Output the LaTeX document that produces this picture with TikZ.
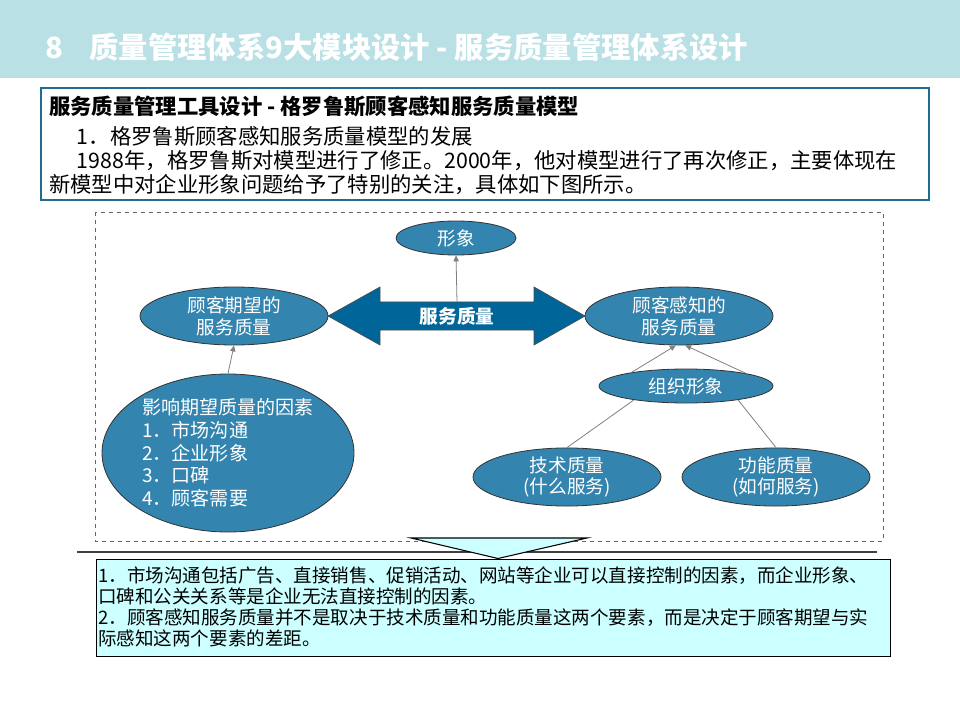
\documentclass[tikz,border=0pt]{standalone}
\usepackage{fontspec}
\setmainfont{Noto Sans CJK SC}
\usepackage{tikz}
\usetikzlibrary{arrows.meta,positioning,shapes.geometric}
\definecolor{barC}{RGB}{185,224,228}
\definecolor{boxC}{RGB}{31,108,148}
\definecolor{ellC}{RGB}{51,132,174}
\definecolor{arrC}{RGB}{0,102,153}
\definecolor{callC}{RGB}{204,255,255}

\begin{document}
\begin{tikzpicture}[
  x=0.75pt, y=-0.75pt, >={Triangle[length=4.5pt,width=4pt]},
  ell/.style={ellipse, draw=black!80, fill=ellC, text=white, line width=0.6pt,
              align=center, inner sep=0pt, font=\fontsize{14}{16.3}\selectfont},
  conn/.style={draw=black!50, line width=0.6pt},
  sqtext/.style={text=white, font=\fontsize{14}{16}\selectfont\bfseries,
                 minimum width=115.5pt, minimum height=21pt, inner sep=0pt}]

  \useasboundingbox (0,0) rectangle (960,720);
  \fill[barC] (0,0) rectangle (960,78);
  \node[anchor=west, text=white, inner sep=0pt, font=\fontsize{22}{25}\selectfont\bfseries]
    (title) at (45,47) {8\hspace{0.9em}质量管理体系9大模块设计 - 服务质量管理体系设计};

  % intro box
  \draw[boxC, line width=0.8pt] (41,88) rectangle (929,200);
  \node[anchor=north west, align=left, inner sep=0pt,
        font=\fontsize{16}{18}\selectfont] (intro) at (49,96)
    {\textbf{服务质量管理工具设计 - 格罗鲁斯顾客感知服务质量模型}\\[4pt]
     \hspace{1.3em}1．格罗鲁斯顾客感知服务质量模型的发展\\
     \hspace{1.3em}1988年，格罗鲁斯对模型进行了修正。2000年，他对模型进行了再次修正，主要体现在\\
     新模型中对企业形象问题给予了特别的关注，具体如下图所示。};

  \draw[black!60, dashed, line width=0.6pt] (95,212) rectangle (883,541);

  % service quality double arrow
  \filldraw[fill=arrC, draw=black!70, line width=0.5pt]
    (328,316) -- (380,287) -- (380,302) -- (534,302) -- (534,287) -- (585,316)
    -- (534,345) -- (534,330) -- (380,330) -- (380,345) -- cycle;
  \node[sqtext] (svq) at (457,316) {服务质量};

  \node[ell, minimum width=90pt, minimum height=25.5pt] (img) at (456,238) {形象};
  \node[ell, minimum width=141pt, minimum height=43.5pt] (expq) at (234,316)
    {顾客期望的\\服务质量};
  \node[ell, minimum width=141pt, minimum height=43.5pt] (perq) at (679,316)
    {顾客感知的\\服务质量};
  \node[ell, minimum width=189pt, minimum height=118.5pt, align=left,
        font=\fontsize{14.3}{17}\selectfont] (fact) at (228,453)
    {影响期望质量的因素\\1．市场沟通\\2．企业形象\\3．口碑\\4．顾客需要};
  \node[ell, minimum width=130.5pt, minimum height=25.5pt] (org) at (686,386) {组织形象};
  \node[ell, minimum width=141pt, minimum height=42.75pt] (tech) at (567,477)
    {技术质量\\(什么服务)};
  \node[ell, minimum width=141pt, minimum height=42.75pt] (func) at (776,477)
    {功能质量\\(如何服务)};

  \draw[conn, ->] (svq.north) -- (img.south);
  \draw[conn, ->] (fact.north) -- (expq.south);
  \draw[conn, ->] (org.166) -- (perq.264);
  \draw[conn, ->] (org.12) -- (perq.282);
  \draw[conn] (tech.north) -- (org.195);
  \draw[conn] (func.north) -- (org.345);

  % note below
  \draw[black!75, line width=1.1pt] (77,552) -- (877,552);
  \node[draw=black, fill=callC, line width=0.8pt, anchor=north west,
        minimum width=595.5pt, minimum height=72.75pt, inner sep=0pt] (note) at (96,559) {};
  \coordinate (tipL) at (411,538);
  \coordinate (tipR) at (587,538);
  \coordinate (tipB) at (498,558.5);
  \filldraw[fill=callC, draw=black, line width=0.8pt] (tipL) -- (tipR) -- (tipB) -- cycle;
  \node[anchor=north west, align=left, inner sep=0pt,
        font=\fontsize{13.9}{15.75}\selectfont] (notetext) at (98,566)
    {1．市场沟通包括广告、直接销售、促销活动、网站等企业可以直接控制的因素，而企业形象、\\
     口碑和公关关系等是企业无法直接控制的因素。\\
     2．顾客感知服务质量并不是取决于技术质量和功能质量这两个要素，而是决定于顾客期望与实\\
     际感知这两个要素的差距。};
\end{tikzpicture}
\end{document}
